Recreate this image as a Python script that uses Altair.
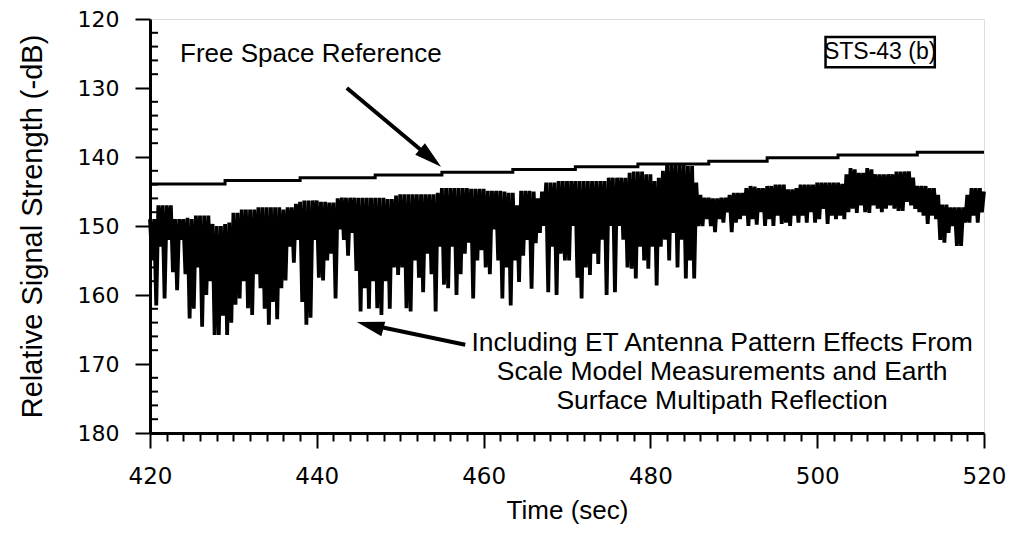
import altair as alt
import pandas as pd

# ---------------- data ----------------
T_START = 420.0
STEP = 0.5

# upper envelope of the measured signal (dB), one value every 0.5 s from 420 s
TOP = [
    149.0, 149.0, 147.0, 147.0, 147.0, 147.0, 149.0, 149.0, 149.0, 148.8, 149.0, 148.5, 148.5, 148.5, 148.5, 149.7, 150.0, 150.0, 149.7, 149.5,
    148.1, 148.1, 147.6, 147.6, 147.6, 147.6, 147.3, 147.3, 147.3, 147.3, 147.3, 147.3, 147.6, 147.3, 147.3, 146.8, 146.5, 146.3, 146.3, 146.3,
    146.3, 146.5, 146.5, 146.6, 146.6, 146.0, 145.9, 145.9, 145.9, 145.9, 145.9, 145.9, 145.9, 145.9, 145.9, 145.9, 145.9, 146.1, 146.1, 145.6,
    145.4, 145.4, 145.4, 145.4, 145.4, 145.4, 145.4, 145.4, 145.4, 145.2, 144.5, 144.5, 144.5, 144.5, 144.5, 144.5, 144.5, 144.6, 144.6, 144.6,
    144.6, 144.9, 144.9, 144.9, 144.9, 145.0, 145.2, 145.2, 147.0, 144.9, 144.9, 144.9, 145.0, 146.0, 145.0, 143.7, 143.7, 143.7, 143.5, 143.5,
    143.5, 143.5, 143.5, 143.5, 143.5, 143.5, 143.5, 143.5, 143.5, 143.5, 143.0, 143.0, 143.0, 143.0, 143.0, 142.3, 142.1, 142.1, 142.1, 142.5,
    142.5, 143.5, 143.0, 142.0, 141.1, 141.1, 141.1, 141.1, 141.1, 141.3, 141.3, 143.7, 145.5, 145.9, 145.9, 146.0, 146.0, 145.9, 145.9, 145.5,
    145.2, 145.2, 145.2, 144.5, 144.2, 144.3, 144.5, 144.5, 144.2, 144.2, 144.0, 144.0, 144.0, 144.7, 144.7, 144.5, 144.0, 144.0, 144.0, 144.0,
    143.7, 143.7, 143.7, 143.7, 143.7, 143.7, 143.9, 142.5, 141.6, 141.8, 142.3, 142.3, 141.6, 141.8, 142.5, 142.5, 142.5, 142.5, 142.5, 142.1,
    142.1, 142.1, 142.1, 143.0, 144.2, 144.2, 144.2, 144.5, 144.5, 145.5, 146.9, 146.9, 147.3, 147.3, 147.3, 147.3, 145.5, 144.5, 144.5, 144.5,
    145.0,
]

# dips of the measured signal (dB), one value every 0.5 s from 420.25 s
DIP = [
    155.0, 161.5, 153.0, 160.5, 152.0, 156.7, 159.3, 152.0, 157.0, 163.4, 162.0, 156.0, 164.6, 160.0, 158.0, 165.8, 165.8, 163.0, 165.8, 164.0,
    161.4, 160.5, 158.0, 161.9, 162.9, 157.0, 159.0, 162.0, 164.3, 161.0, 163.5, 159.0, 157.9, 153.0, 155.3, 152.0, 161.0, 164.3, 163.3, 152.0,
    157.5, 157.9, 155.0, 154.0, 160.5, 150.5, 152.0, 154.3, 151.0, 156.5, 162.4, 159.0, 162.0, 158.0, 161.9, 162.9, 158.0, 162.0, 156.0, 157.1,
    156.0, 161.9, 162.4, 155.0, 157.5, 159.6, 154.0, 157.0, 162.4, 153.0, 158.5, 159.0, 153.0, 160.0, 157.0, 154.0, 152.4, 160.5, 155.0, 153.5,
    156.0, 157.0, 150.5, 155.0, 160.5, 156.0, 161.5, 155.0, 158.1, 154.3, 152.0, 159.1, 152.5, 151.0, 150.0, 159.6, 153.0, 160.0, 154.0, 155.0,
    155.0, 150.0, 157.5, 160.5, 156.0, 157.1, 154.0, 155.5, 152.0, 160.0, 150.0, 159.6, 150.0, 152.0, 156.0, 156.2, 157.6, 153.0, 155.0, 156.2,
    153.0, 158.6, 153.0, 152.0, 155.0, 151.0, 156.0, 152.0, 157.6, 155.0, 157.6, 150.0, 150.0, 149.0, 150.0, 150.9, 149.0, 149.5, 148.0, 150.9,
    149.5, 149.0, 148.5, 150.0, 149.0, 149.8, 148.0, 150.0, 149.0, 150.0, 148.5, 149.7, 149.5, 150.0, 148.5, 149.5, 148.5, 149.5, 148.0, 149.5,
    149.0, 147.5, 149.7, 148.5, 149.0, 148.5, 149.0, 148.0, 147.5, 148.1, 147.0, 148.0, 148.1, 147.0, 147.5, 148.0, 147.5, 147.0, 147.5, 147.8,
    147.8, 146.5, 147.0, 147.5, 148.0, 148.5, 149.7, 148.5, 149.0, 152.0, 152.4, 151.0, 150.0, 152.9, 152.9, 149.5, 149.5, 148.5, 149.5, 148.0,
]

# free-space reference (stepped line)
REF_T = [420, 429, 438, 447, 455, 463.5, 471, 478.5, 487, 494, 502.5, 512, 520]
REF_V = [143.9, 143.4, 143.0, 142.6, 142.2, 141.8, 141.4, 141.0, 140.6, 140.1, 139.7, 139.3, 139.3]

X_TICKS = list(range(420, 521, 2))
Y_MAJOR = [120, 130, 140, 150, 160, 170, 180]
Y_MINOR = [v for v in range(122, 180, 2) if v % 10 != 0]

LABEL_FREE = "Free Space Reference"
LABEL_BOX = "STS-43 (b)"
LABEL_LINES = [
    "Including ET Antenna Pattern Effects From",
    "Scale Model Measurements and Earth",
    "Surface Multipath Reflection",
]

# ---------------- build tables ----------------
rows = []
for i, top in enumerate(TOP):
    t = T_START + STEP * i
    rows.append({"t": t, "v": top, "o": 2 * i})
    if i < len(DIP):
        rows.append({"t": t + STEP / 2, "v": DIP[i], "o": 2 * i + 1})
sig = pd.DataFrame(rows)
ref = pd.DataFrame({"t": REF_T, "v": REF_V})

FONT = "Liberation Sans"
TICKFONT = "DejaVu Sans"
xs = alt.Scale(domain=[420, 520], nice=False, zero=False)
ys = alt.Scale(domain=[120, 180], nice=False, zero=False, reverse=True)

x_axis = alt.Axis(
    values=X_TICKS,
    labelExpr="datum.value % 20 === 0 ? datum.label : ''",
    labelOverlap=False, labelFlush=False, labelBound=False,
    tickSize=alt.ExprRef("datum.value % 20 === 0 ? 15 : 8"),
    tickWidth=2, domainWidth=3, tickColor="black", domainColor="black",
    labelFontSize=23, labelPadding=17, labelColor="black", labelFont=TICKFONT,
    title="Time (sec)", titleFontSize=26, titleFontWeight="normal", titlePadding=9,
    titleColor="black", titleFont=FONT, grid=False,
)
y_axis = alt.Axis(
    values=Y_MAJOR, tickSize=15, tickWidth=2, domainWidth=3,
    tickColor="black", domainColor="black", labelFlush=False, labelOverlap=False,
    labelFontSize=22, labelPadding=16, labelColor="black", labelFont=TICKFONT,
    title="Relative Signal Strength (-dB)", titleFontSize=29, titleFontWeight="normal",
    titlePadding=30, titleColor="black", titleFont=FONT, grid=False,
)

X = alt.X("t:Q", scale=xs, axis=x_axis)
Y = alt.Y("v:Q", scale=ys, axis=y_axis)

reference = alt.Chart(ref).mark_line(color="black", strokeWidth=3, interpolate="step-after").encode(
    x=X, y=Y
)
signal = alt.Chart(sig).mark_line(color="black", strokeWidth=3.8, strokeJoin="bevel").encode(
    x=X, y=Y, order="o:Q",
)

minor = alt.Chart(pd.DataFrame({"v": Y_MINOR})).mark_rule(color="black", strokeWidth=2).encode(
    y=Y, x=alt.value(0), x2=alt.value(8)
)

# annotations
free_txt = alt.Chart(pd.DataFrame({"t": [423.6], "v": [125.0], "s": [LABEL_FREE]})).mark_text(
    align="left", baseline="middle", fontSize=26, font=FONT, color="black"
).encode(x=X, y=Y, text="s:N")

box = alt.Chart(pd.DataFrame({"t": [501.0], "t2": [514.1], "v": [122.6], "v2": [127.0]})).mark_rect(
    fill="white", stroke="black", strokeWidth=2.5
).encode(x=X, x2="t2:Q", y=Y, y2="v2:Q")

box_txt = alt.Chart(pd.DataFrame({"t": [507.55], "v": [124.8], "s": [LABEL_BOX]})).mark_text(
    align="center", baseline="middle", fontSize=23, font=FONT, color="black"
).encode(x=X, y=Y, text="s:N")

lines_txt = alt.Chart(pd.DataFrame({"t": [488.6] * 3, "v": [166.9, 171.1, 175.3], "s": LABEL_LINES})).mark_text(
    align="center", baseline="middle", fontSize=26.5, font=FONT, color="black"
).encode(x=X, y=Y, text="s:N")

shafts = alt.Chart(pd.DataFrame({
    "t": [443.6, 457.8], "t2": [452.6, 447.5], "v": [130.0, 167.2], "v2": [139.1, 164.6]
})).mark_rule(color="black", strokeWidth=4).encode(
    x=X, x2="t2:Q", y=Y, y2="v2:Q"
)

HEAD = "M0,0L0.55,2L-0.55,2Z"
heads = alt.Chart(pd.DataFrame({"t": [454.9, 444.8], "v": [141.4, 163.9], "a": [130, 285]})).mark_point(
    shape=HEAD, filled=True, color="black", size=750, opacity=1
).encode(x=X, y=Y, angle=alt.Angle("a:Q", scale=None))

chart = alt.layer(
    reference, signal, minor, free_txt, box, box_txt, lines_txt, shafts, heads
).properties(
    width=834, height=414,
    autosize=alt.AutoSizeParams(type="none"),
    padding={"left": 142, "top": 11, "right": 24, "bottom": 94},
).configure_view(stroke=None).configure_axis(labelOverlap=False).configure(font=FONT, background="white")

chart.save("out.html", embed_options={"renderer": "svg", "actions": False})
